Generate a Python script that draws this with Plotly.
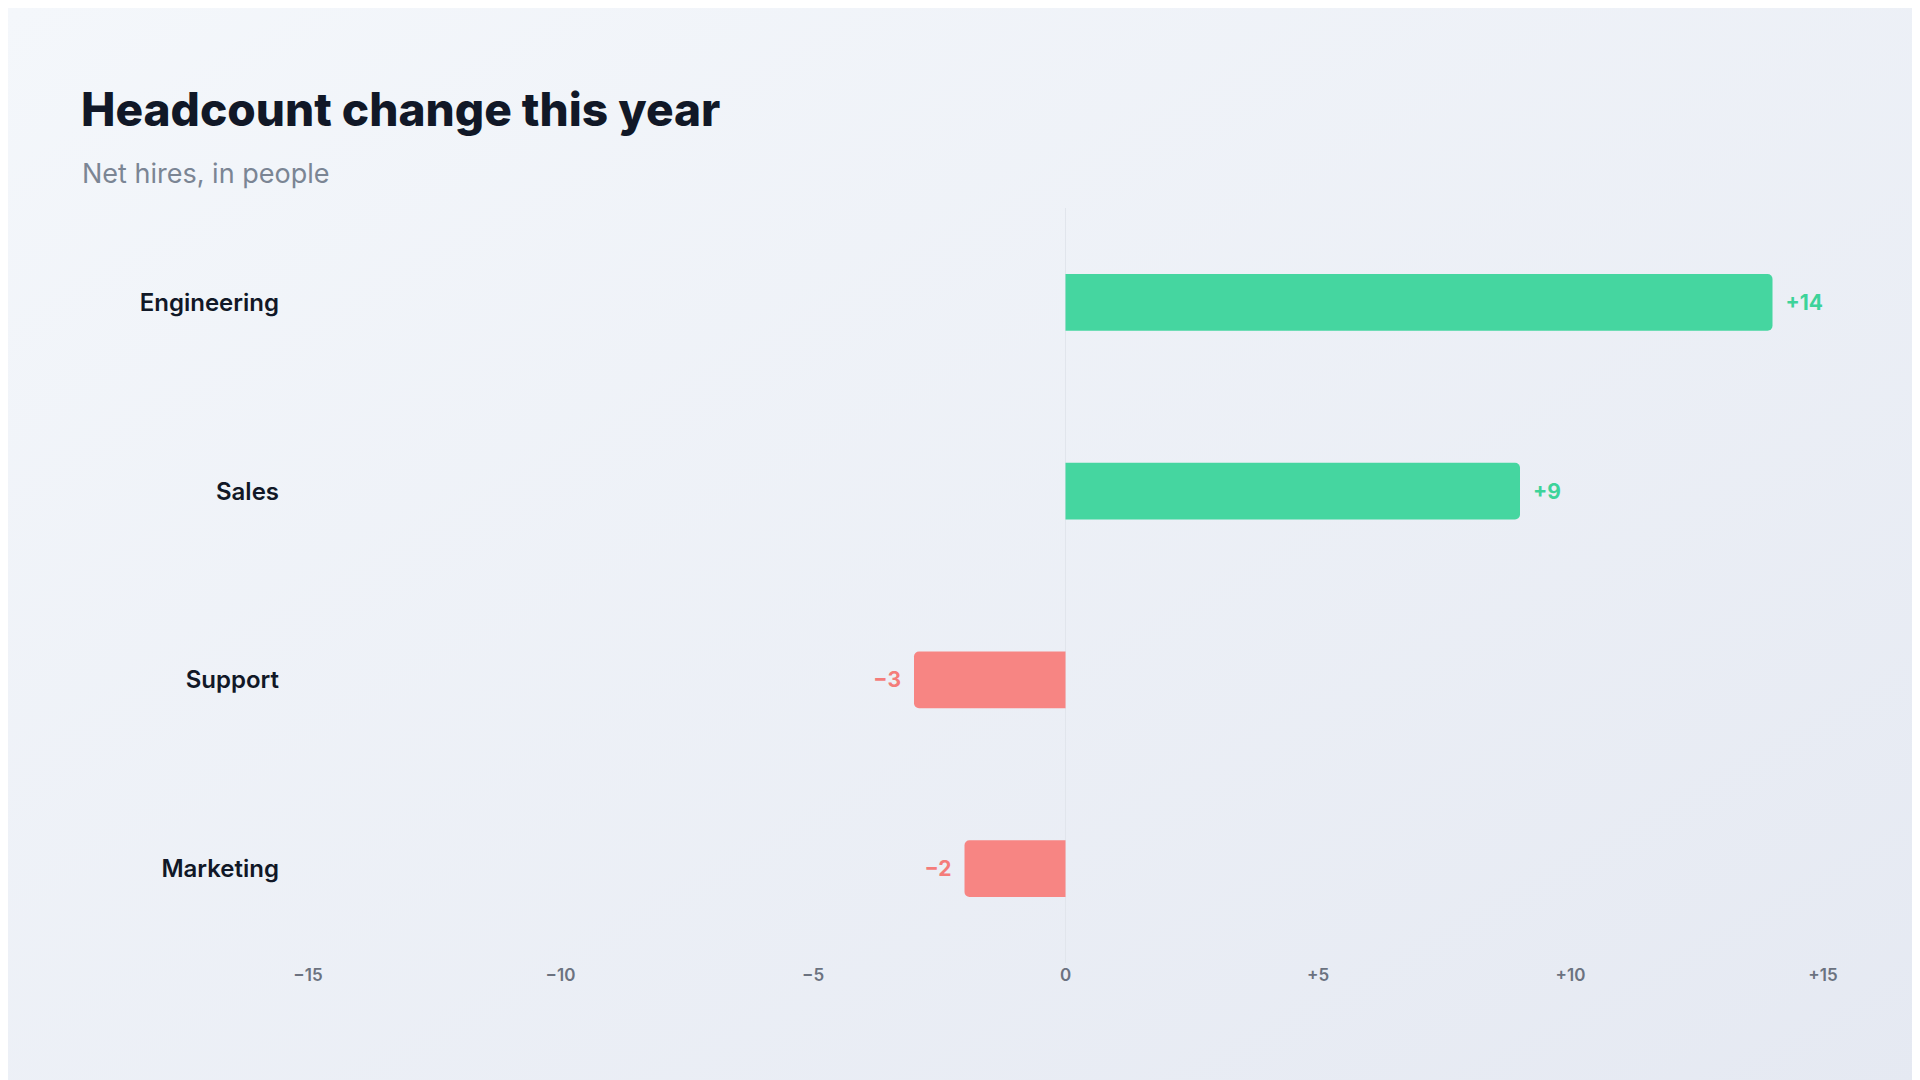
import plotly.graph_objects as go
import base64

categories = ["Engineering", "Sales", "Support", "Marketing"]
values = [14, 9, -3, -2]
labels = ["  +14", "  +9", "\u22123  ", "\u22122  "]
tick_vals = [-15, -10, -5, 0, 5, 10, 15]
tick_text = ["\u221215", "\u221210", "\u22125", "0", "+5", "+10", "+15"]

green = "#45d6a0"
red = "#f78583"
colors = [green if v > 0 else red for v in values]
text_colors = ["#3dd39a" if v > 0 else "#f47c7a" for v in values]

L, R, T, B = 300, 105, 200, 125

svg = ('<svg xmlns="http://www.w3.org/2000/svg" width="1920" height="1080">'
       '<defs><linearGradient id="g" x1="0" y1="0" x2="1" y2="1">'
       '<stop offset="0" stop-color="#f4f7fb"/><stop offset="1" stop-color="#e5e9f2"/>'
       '</linearGradient></defs><rect width="1920" height="1080" fill="url(#g)"/></svg>')
bg = "data:image/svg+xml;base64," + base64.b64encode(svg.encode()).decode()

ph = 1080 - T - B
pw = 1920 - L - R
def px(x): return (x - L) / pw
def py(y): return (1080 - B - y) / ph

fig = go.Figure(go.Bar(
    x=values, y=categories, orientation="h",
    marker=dict(color=colors, line=dict(width=0)),
    width=0.3,
    text=labels, textposition="outside", cliponaxis=False,
    textfont=dict(family="Inter", size=21, color=text_colors, weight=700),
))

fig.update_layout(
    width=1920, height=1080,
    paper_bgcolor="rgba(0,0,0,0)", plot_bgcolor="rgba(0,0,0,0)",
    margin=dict(l=L, r=R, t=T, b=B),
    barcornerradius=5,
    showlegend=False,
    font=dict(family="Inter"),
    images=[dict(source=bg, xref="paper", yref="paper", x=px(0), y=py(0),
                 sizex=1920 / pw, sizey=1080 / ph,
                 sizing="stretch", layer="below", xanchor="left", yanchor="top")],
    xaxis=dict(range=[-15, 15], tickvals=tick_vals, ticktext=tick_text,
               showgrid=False, zeroline=True, zerolinecolor="#e1e5ec", zerolinewidth=1,
               tickfont=dict(size=17, color="#6b7280", weight=600), showline=False,
               ticks="", automargin=False),
    yaxis=dict(categoryorder="array", categoryarray=categories[::-1],
               showgrid=False, zeroline=False, ticks="", automargin=False,
               tickfont=dict(size=24, color="#111827", weight=600),
               ticklabelstandoff=28),
    annotations=[
        dict(text="Headcount change this year", xref="paper", yref="paper",
             x=px(71), y=py(101), xanchor="left", yanchor="middle", showarrow=False,
             font=dict(size=46, color="#111827", weight=800)),
        dict(text="Net hires, in people", xref="paper", yref="paper",
             x=px(72), y=py(165), xanchor="left", yanchor="middle", showarrow=False,
             font=dict(size=27, color="#7b8594")),
    ],
)

fig.write_html("out.html")
